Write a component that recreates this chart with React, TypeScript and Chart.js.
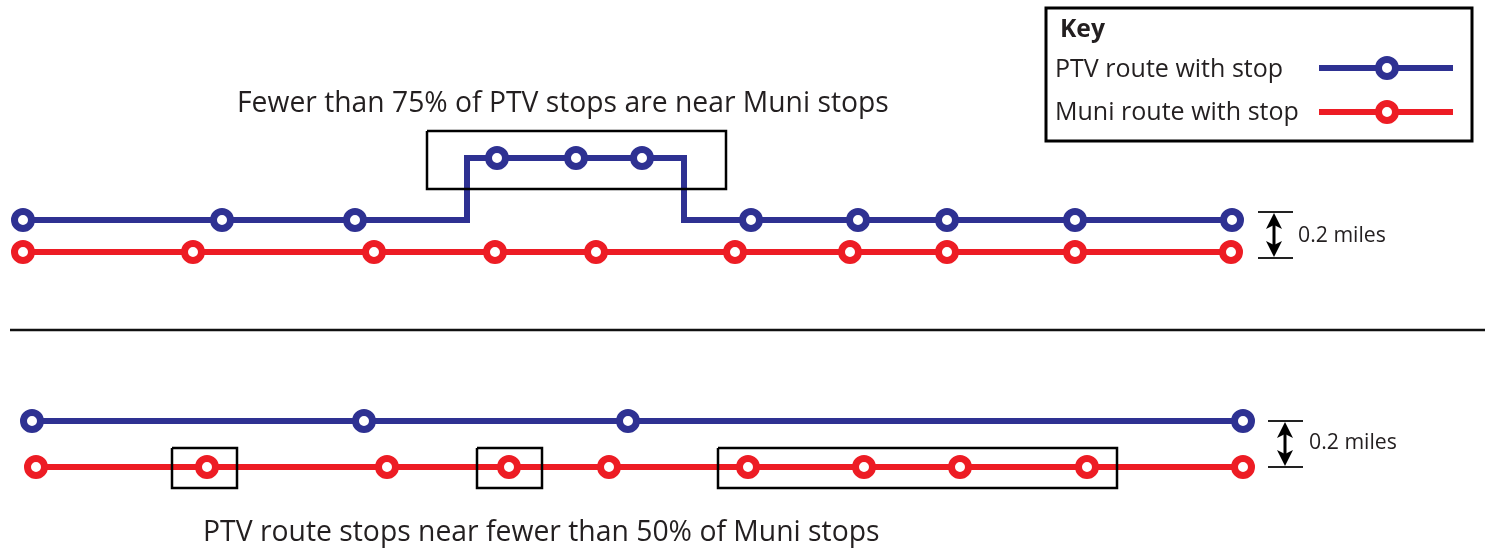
import React, { useEffect, useRef } from "react";
import { Chart, registerables } from "chart.js";

Chart.register(...registerables);

// ---- data (diagram coordinates, x: 0..1485, y: 0..550 top-down) ----
const PTV_TOP_PATH_X = [23, 467, 467, 684, 684, 1232];
const PTV_TOP_PATH_Y = [220, 220, 158, 158, 220, 220];
const PTV_TOP_STOP_X = [23, 222, 355, 497, 576, 642, 751, 858, 947, 1075, 1232];
const PTV_TOP_STOP_Y = [220, 220, 220, 158, 158, 158, 220, 220, 220, 220, 220];
const MUNI_TOP_STOP_X = [23, 193, 374, 495, 596, 735, 850, 947, 1075, 1231];
const MUNI_TOP_Y = 252;

const PTV_BOT_STOP_X = [32, 364, 628, 1243];
const PTV_BOT_Y = 421;
const MUNI_BOT_STOP_X = [36, 207, 387, 509, 609, 748, 864, 960, 1087, 1243];
const MUNI_BOT_Y = 467;

// highlight boxes: [x1, y1, x2, y2]
const BOX_TOP = [427, 131, 726, 189];
const BOXES_BOTTOM = [
  [172, 448, 237, 488],
  [477, 448, 542, 488],
  [718, 448, 1117, 488],
];

const DIVIDER_X = [10, 1485];
const DIVIDER_Y = 330;

const TITLE_TOP = "Fewer than 75% of PTV stops are near Muni stops";
const TITLE_BOTTOM = "PTV route stops near fewer than 50% of Muni stops";
const KEY_TITLE = "Key";
const KEY_LABELS = ["PTV route with stop", "Muni route with stop"];
const SCALE_LABEL = "0.2 miles";

const BLUE = "#2E3192";
const RED = "#ED1C24";
const INK = "#231F20";
const FONT = "'Open Sans', 'Noto Sans', sans-serif";

function pts(xs: number[], ys: number[] | number) {
  return xs.map((x, i) => ({ x, y: Array.isArray(ys) ? ys[i] : ys }));
}
function boxPts(b: number[]) {
  return [
    { x: b[0], y: b[1] },
    { x: b[2], y: b[1] },
    { x: b[2], y: b[3] },
    { x: b[0], y: b[3] },
    { x: b[0], y: b[1] },
  ];
}

function fitFont(ctx: CanvasRenderingContext2D, text: string, width: number, weight: string) {
  ctx.font = `${weight} 20px ${FONT}`;
  const w = ctx.measureText(text).width;
  return `${weight} ${(20 * width) / w}px ${FONT}`;
}

const annotations = {
  id: "annotations",
  afterDatasetsDraw(chart: any) {
    const { ctx } = chart;
    const sx = chart.scales.x;
    const sy = chart.scales.y;
    const X = (v: number) => sx.getPixelForValue(v);
    const Y = (v: number) => sy.getPixelForValue(v);
    ctx.save();
    ctx.fillStyle = INK;
    ctx.textBaseline = "middle";
    ctx.textAlign = "left";

    // titles
    ctx.font = fitFont(ctx, TITLE_TOP, X(889) - X(237), "400");
    ctx.fillText(TITLE_TOP, X(237), Y(104));
    ctx.font = fitFont(ctx, TITLE_BOTTOM, X(880) - X(203), "400");
    ctx.fillText(TITLE_BOTTOM, X(203), Y(533));

    // key box
    ctx.strokeStyle = "#000";
    ctx.lineWidth = 3;
    ctx.strokeRect(X(1046), Y(8), X(1472) - X(1046), Y(141) - Y(8));
    ctx.font = fitFont(ctx, KEY_TITLE, X(1105) - X(1060), "700");
    ctx.fillText(KEY_TITLE, X(1060), Y(30));
    ctx.font = fitFont(ctx, KEY_LABELS[1], X(1299) - X(1055), "400");
    ctx.fillText(KEY_LABELS[0], X(1055), Y(70));
    ctx.fillText(KEY_LABELS[1], X(1055), Y(113));

    // key symbols
    const sym = (y: number, c: string) => {
      ctx.strokeStyle = c;
      ctx.lineWidth = 6;
      ctx.beginPath();
      ctx.moveTo(X(1319), Y(y));
      ctx.lineTo(X(1453), Y(y));
      ctx.stroke();
      ctx.beginPath();
      ctx.arc(X(1387), Y(y), 8.5, 0, Math.PI * 2);
      ctx.fillStyle = "#fff";
      ctx.fill();
      ctx.lineWidth = 7;
      ctx.stroke();
    };
    sym(68, BLUE);
    sym(112, RED);

    // scale markers
    const scale = (x1: number, x2: number, xa: number, yt: number, yb: number, tx: number, ty: number) => {
      ctx.strokeStyle = "#222";
      ctx.lineWidth = 2;
      ctx.beginPath();
      ctx.moveTo(X(x1), Y(yt));
      ctx.lineTo(X(x2), Y(yt));
      ctx.moveTo(X(x1), Y(yb));
      ctx.lineTo(X(x2), Y(yb));
      ctx.stroke();
      ctx.lineWidth = 3;
      ctx.strokeStyle = "#000";
      ctx.beginPath();
      ctx.moveTo(X(xa), Y(yt) + 10);
      ctx.lineTo(X(xa), Y(yb) - 10);
      ctx.stroke();
      ctx.fillStyle = "#000";
      ctx.beginPath();
      ctx.moveTo(X(xa), Y(yt) + 1);
      ctx.lineTo(X(xa) - 8, Y(yt) + 17);
      ctx.lineTo(X(xa), Y(yt) + 13);
      ctx.lineTo(X(xa) + 8, Y(yt) + 17);
      ctx.closePath();
      ctx.fill();
      ctx.beginPath();
      ctx.moveTo(X(xa), Y(yb) - 1);
      ctx.lineTo(X(xa) - 8, Y(yb) - 17);
      ctx.lineTo(X(xa), Y(yb) - 13);
      ctx.lineTo(X(xa) + 8, Y(yb) - 17);
      ctx.closePath();
      ctx.fill();
      ctx.fillStyle = INK;
      ctx.font = fitFont(ctx, SCALE_LABEL, 88, "400");
      ctx.fillText(SCALE_LABEL, X(tx), Y(ty));
    };
    scale(1258, 1293, 1274, 212, 258, 1298, 236);
    scale(1268, 1303, 1285, 421, 467, 1309, 443);

    ctx.restore();
  },
};

export default function App() {
  const ref = useRef<HTMLCanvasElement | null>(null);
  useEffect(() => {
    if (!ref.current) return;
    const stop = (c: string) => ({
      showLine: false,
      pointRadius: 8.5,
      pointHoverRadius: 8.5,
      pointBorderWidth: 7,
      pointBackgroundColor: "#fff",
      pointBorderColor: c,
      borderColor: c,
      order: 1,
      clip: false as any,
    });
    const line = (c: string, w = 6) => ({
      showLine: true,
      pointRadius: 0,
      borderColor: c,
      borderWidth: w,
      borderJoinStyle: "miter" as const,
      tension: 0,
      fill: false,
      order: 2,
      clip: false as any,
    });
    const box = (b: number[]) => ({
      data: boxPts(b),
      showLine: true,
      pointRadius: 0,
      borderColor: "#000",
      borderWidth: 2.5,
      borderJoinStyle: "miter" as const,
      fill: false,
      order: 0,
      clip: false as any,
    });
    const chart = new Chart(ref.current, {
      type: "scatter",
      data: {
        datasets: [
          box(BOX_TOP),
          ...BOXES_BOTTOM.map(box),
          { label: "PTV stops top", data: pts(PTV_TOP_STOP_X, PTV_TOP_STOP_Y), ...stop(BLUE) },
          { label: "Muni stops top", data: pts(MUNI_TOP_STOP_X, MUNI_TOP_Y), ...stop(RED) },
          { label: "PTV stops bottom", data: pts(PTV_BOT_STOP_X, PTV_BOT_Y), ...stop(BLUE) },
          { label: "Muni stops bottom", data: pts(MUNI_BOT_STOP_X, MUNI_BOT_Y), ...stop(RED) },
          { label: "PTV top", data: pts(PTV_TOP_PATH_X, PTV_TOP_PATH_Y), ...line(BLUE) },
          {
            label: "Muni top",
            data: pts([MUNI_TOP_STOP_X[0], MUNI_TOP_STOP_X[MUNI_TOP_STOP_X.length - 1]], MUNI_TOP_Y),
            ...line(RED),
          },
          {
            label: "PTV bottom",
            data: pts([PTV_BOT_STOP_X[0], PTV_BOT_STOP_X[PTV_BOT_STOP_X.length - 1]], PTV_BOT_Y),
            ...line(BLUE),
          },
          {
            label: "Muni bottom",
            data: pts([MUNI_BOT_STOP_X[0], MUNI_BOT_STOP_X[MUNI_BOT_STOP_X.length - 1]], MUNI_BOT_Y),
            ...line(RED),
          },
          { label: "divider", data: pts(DIVIDER_X, DIVIDER_Y), ...line("#111", 2.5) },
        ] as any,
      },
      options: {
        animation: false,
        responsive: false,
        devicePixelRatio: 1,
        layout: { padding: 0, autoPadding: false },
        events: [],
        plugins: { legend: { display: false }, tooltip: { enabled: false } },
        scales: {
          x: { type: "linear", min: 0, max: 1485, display: false },
          y: { type: "linear", min: 0, max: 550, reverse: true, display: false },
        },
      },
      plugins: [annotations],
    });
    return () => chart.destroy();
  }, []);
  return (
    <div style={{ position: "fixed", left: 0, top: 0, width: 1485, height: 550, background: "#fff" }}>
      <canvas ref={ref} width={1485} height={550} style={{ width: 1485, height: 550, display: "block" }} />
    </div>
  );
}
